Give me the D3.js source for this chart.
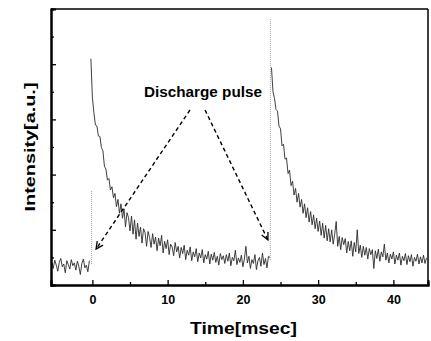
<!DOCTYPE html>
<html><head><meta charset="utf-8">
<script src="https://cdn.jsdelivr.net/npm/d3@7/dist/d3.min.js"></script>
<style>
html,body{margin:0;padding:0;background:#fff;}
text{font-family:"Liberation Sans",Arial,sans-serif;font-weight:bold;fill:#000;}
</style></head>
<body><svg id="c" width="431" height="341"></svg>
<script>
// ---- data ----
const xTicks = [0, 10, 20, 30, 40];
const xMinorTicks = [5, 15, 25, 35];
const yTicks = [1, 2, 3, 4];
const yMinorTicks = [0.5, 1.5, 2.5, 3.5, 4.5];
const sampleStep = 0.2;           // ms between samples
const preStart = -5.4;            // ms
const decay1Start = -0.2;         // ms
const decay2Start = 23.8;         // ms
const preTrace = [0.42,0.30,0.45,0.36,0.25,0.41,0.48,0.33,0.38,0.22,0.44,0.37,0.29,0.46,0.35,0.40,0.27,0.43,0.34,0.19,0.39,0.47,0.31,0.36,0.24,0.44];
const decay1Trace = [
 4.10,3.40,3.12,2.90,2.88,2.70,2.69,2.49,2.43,2.15,
 2.10,1.90,1.93,1.72,1.78,1.58,1.66,1.42,1.55,1.30,
 1.47,1.21,1.38,1.05,1.31,1.22,0.98,1.25,0.92,1.18,
 0.83,1.12,0.88,1.05,0.76,1.02,0.95,0.70,0.97,0.86,
 0.68,0.93,0.74,0.87,0.62,0.85,0.71,0.90,0.58,0.79,
 0.66,0.82,0.55,0.74,0.69,0.53,0.77,0.60,0.70,0.49,
 0.68,0.57,0.72,0.46,0.63,0.54,0.69,0.44,0.60,0.51,
 0.66,0.42,0.58,0.49,0.64,0.40,0.55,0.47,0.61,0.38,
 0.56,0.45,0.59,0.41,0.52,0.36,0.57,0.46,0.53,0.39,
 0.55,0.43,0.58,0.35,0.50,0.44,0.63,0.37,0.49,0.41,
 0.54,0.33,0.47,0.70,0.40,0.52,0.30,0.46,0.39,0.55,
 0.28,0.44,0.50,0.34,0.58,0.37,0.48,0.31,0.52,0.50];
const decay2Trace = [
 3.94,3.50,3.38,3.18,3.15,2.88,2.83,2.52,2.55,2.28,
 2.30,2.02,2.08,1.80,1.88,1.63,1.75,1.50,1.66,1.41,
 1.55,1.30,1.47,1.22,1.40,1.14,1.33,1.09,1.27,1.02,
 1.21,0.97,1.16,0.90,1.12,0.85,1.08,0.80,1.02,0.78,
 1.00,0.74,0.92,1.15,0.70,0.88,0.64,0.86,0.73,0.84,
 0.58,0.79,0.62,0.80,0.52,0.77,0.60,1.00,0.57,0.72,
 0.50,0.70,0.54,0.68,0.47,0.66,0.55,0.64,0.30,0.62,
 0.48,0.65,0.43,0.60,0.51,0.74,0.45,0.58,0.40,0.56,
 0.47,0.60,0.38,0.54,0.45,0.58,0.36,0.52,0.44,0.57,
 0.37,0.53,0.42,0.55,0.34,0.50,0.43,0.56,0.38,0.51,
 0.40,0.54,0.39,0.49];
const pulseTimes = [-0.1, 23.65];
const pulseBase = [0.38, 0.45];
const pulseTop = [1.72, 4.83];
const annotationText = "Discharge pulse";
const arrowStarts = [[12.97, 3.17], [14.97, 3.17]];
const arrowTips = [[0.49, 0.65], [23.33, 0.815]];
const xTitle = "Time[msec]";
const yTitle = "Intensity[a.u.]";

// ---- layout ----
const L = 51, R = 428, T = 9, B = 285;
const svg = d3.select("#c");
const x = d3.scaleLinear().domain([-5.5, 44.6]).range([L, R]);
const y = d3.scaleLinear().domain([0, 5]).range([B, T]);

const toPts = (arr, t0) => arr.map((v, i) => [t0 + i * sampleStep, v]);
const line = d3.line().x(d => x(d[0])).y(d => y(d[1]));

// pulse markers (light dotted)
svg.append("g").selectAll("line").data(pulseTimes).join("line")
  .attr("x1", d => x(d)).attr("x2", d => x(d))
  .attr("y1", (d, i) => y(pulseBase[i])).attr("y2", (d, i) => y(pulseTop[i]))
  .attr("stroke", "#888").attr("stroke-width", 0.8).attr("stroke-dasharray", "1,1");

// traces
[[preTrace, preStart], [decay1Trace, decay1Start], [decay2Trace, decay2Start]].forEach(([arr, t0]) => {
  svg.append("path").datum(toPts(arr, t0)).attr("d", line)
    .attr("fill", "none").attr("stroke", "#2a2a2a").attr("stroke-width", 0.9)
    .attr("stroke-linejoin", "round");
});

// frame
svg.append("line").attr("x1", L).attr("x2", R).attr("y1", T).attr("y2", T).attr("stroke", "#000").attr("stroke-width", 1.5);
svg.append("line").attr("x1", R).attr("x2", R).attr("y1", T).attr("y2", B).attr("stroke", "#000").attr("stroke-width", 1.5);

// axes (ticks inward)
const xAx = svg.append("g").attr("transform", `translate(0,${B})`)
  .call(d3.axisBottom(x).tickValues(xTicks).tickSize(-5).tickPadding(10).tickFormat(d3.format("d")));
const xMin = svg.append("g").attr("transform", `translate(0,${B})`)
  .call(d3.axisBottom(x).tickValues(xMinorTicks).tickSize(-3).tickFormat(""));
const yAx = svg.append("g").attr("transform", `translate(${L},0)`)
  .call(d3.axisLeft(y).tickValues(yTicks).tickSize(-5).tickFormat(""));
const yMin = svg.append("g").attr("transform", `translate(${L},0)`)
  .call(d3.axisLeft(y).tickValues(yMinorTicks).tickSize(-3).tickFormat(""));
[xAx, xMin, yAx, yMin].forEach(g => {
  g.select(".domain").attr("stroke", "#000").attr("stroke-width", 2);
  g.selectAll(".tick line").attr("stroke", "#000").attr("stroke-width", 1.3);
});
xAx.selectAll(".tick text").attr("font-size", 12.5).attr("font-weight", "bold")
  .attr("font-family", '"Liberation Sans",Arial,sans-serif').attr("fill", "#000");

// axis titles
svg.append("text").attr("x", 243.5).attr("y", 334).attr("text-anchor", "middle")
  .attr("font-size", 16).attr("textLength", 107).attr("lengthAdjust", "spacingAndGlyphs").text(xTitle);
svg.append("text").attr("transform", "translate(35,147) rotate(-90)").attr("text-anchor", "middle")
  .attr("font-size", 15).attr("textLength", 129).attr("lengthAdjust", "spacingAndGlyphs").text(yTitle);

// annotation
svg.append("text").attr("x", 203).attr("y", 97).attr("text-anchor", "middle")
  .attr("font-size", 15).attr("textLength", 118).attr("lengthAdjust", "spacingAndGlyphs").text(annotationText);

arrowStarts.forEach((s, i) => {
  const tip = arrowTips[i];
  const x1 = x(s[0]), y1 = y(s[1]), x2 = x(tip[0]), y2 = y(tip[1]);
  svg.append("line").attr("x1", x1).attr("y1", y1).attr("x2", x2).attr("y2", y2)
    .attr("stroke", "#000").attr("stroke-width", 1.4).attr("stroke-dasharray", "4,3");
  const ang = Math.atan2(y1 - y2, x1 - x2), len = 8, spread = 0.45;
  const p1 = [x2 + len * Math.cos(ang - spread), y2 + len * Math.sin(ang - spread)];
  const p2 = [x2 + len * Math.cos(ang + spread), y2 + len * Math.sin(ang + spread)];
  svg.append("path").attr("d", `M${p1[0]},${p1[1]}L${x2},${y2}L${p2[0]},${p2[1]}`)
    .attr("fill", "none").attr("stroke", "#000").attr("stroke-width", 1.3);
});
</script></body></html>
